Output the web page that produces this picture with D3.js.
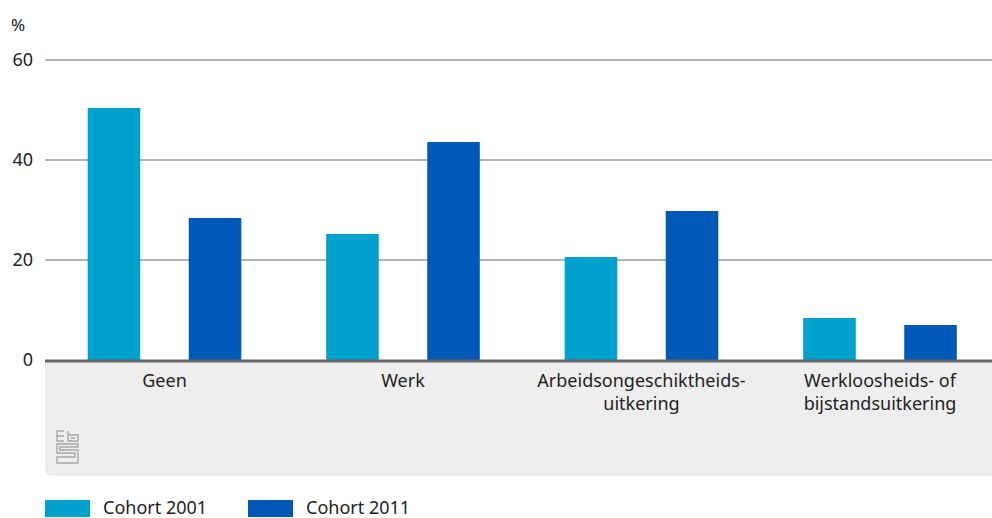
<!DOCTYPE html>
<html><head><meta charset="utf-8">
<script src="https://cdn.jsdelivr.net/npm/d3@7"></script>
<style>body{margin:0;background:#fff}svg{display:block;font-family:"Noto Sans",sans-serif}</style>
</head><body><svg id="c" width="992" height="518"></svg>
<script>
const categories = [["Geen"], ["Werk"], ["Arbeidsongeschiktheids-", "uitkering"], ["Werkloosheids- of", "bijstandsuitkering"]];
const seriesNames = ["Cohort 2001", "Cohort 2011"];
const cohort2001 = [50.4, 25.2, 20.6, 8.4];
const cohort2011 = [28.4, 43.6, 29.8, 7.0];
const yTicks = [0, 20, 40, 60];
const colors = ["#00a1cd", "#0058b8"];

const svg = d3.select("#c");
const pLeft = 45, pRight = 992, pTop = 60, pBottom = 360;
const y = d3.scaleLinear().domain([0, 60]).range([pBottom, pTop]);
const x0 = d3.scaleBand().domain(d3.range(categories.length)).range([45.25, 999.25]);
const x1 = d3.scaleBand().domain(seriesNames).range([0, x0.bandwidth()]).paddingInner(0.48).paddingOuter(0.42);

// gray label area
const gh = 116, r = 8;
svg.append("path").attr("fill", "#eeeeee")
  .attr("d", `M${pLeft},${pBottom} H${pRight} V${pBottom+gh} H${pLeft+r} Q${pLeft},${pBottom+gh} ${pLeft},${pBottom+gh-r} Z`);

// gridlines
svg.append("g").selectAll("line").data(yTicks.filter(d => d > 0)).join("line")
  .attr("x1", pLeft).attr("x2", pRight).attr("y1", d => y(d)).attr("y2", d => y(d))
  .attr("stroke", "#9a9a9a").attr("stroke-width", 1.5);

// y axis labels
const yAxis = d3.axisLeft(y).tickValues(yTicks).tickSize(0).tickPadding(0);
const ya = svg.append("g").attr("transform", `translate(33,0)`).call(yAxis);
ya.select(".domain").remove();
ya.selectAll("text").attr("font-size", 18).attr("fill", "#222").attr("font-family", "Noto Sans").attr("dy", "0.3em");
svg.append("text").attr("x", 11).attr("y", 31).text("%").attr("font-size", 17).attr("fill", "#222");

// bars
const data = categories.map((c, i) => [cohort2001[i], cohort2011[i]]);
const g = svg.append("g").selectAll("g").data(data).join("g")
  .attr("transform", (d, i) => `translate(${x0(i)},0)`);
g.selectAll("rect").data(d => d.map((v, j) => ({v, s: seriesNames[j], j}))).join("rect")
  .attr("x", d => x1(d.s)).attr("width", x1.bandwidth())
  .attr("y", d => y(d.v)).attr("height", d => y(0) - y(d.v))
  .attr("fill", d => colors[d.j]);

// baseline
svg.append("line").attr("x1", pLeft).attr("x2", pRight).attr("y1", pBottom+1).attr("y2", pBottom+1)
  .attr("stroke", "#666").attr("stroke-width", 3);

// x labels
const xl = svg.append("g").selectAll("text").data(categories).join("text")
  .attr("x", (d, i) => x0(i) + x0.bandwidth()/2).attr("y", 387)
  .attr("text-anchor", "middle").attr("font-size", 18).attr("fill", "#222");
xl.selectAll("tspan").data(d => d).join("tspan")
  .attr("x", function(){ return this.parentNode.getAttribute("x"); })
  .attr("dy", (d, k) => k === 0 ? 0 : 23).text(d => d);

// cbs logo
const logo = svg.append("g").attr("transform", "translate(56,430)").attr("fill", "none").attr("stroke", "#a8a8a8").attr("stroke-width", 1.4);
logo.append("path").attr("d", "M8,1 H1 V11 H8 M1,6 H8");
logo.append("path").attr("d", "M12,1 V11 H22 V5 H12 M15,8 H19");
logo.append("path").attr("d", "M22,14 H1 V23 H19 V27 H1 V33 H22 V20 H4 V17 H22 Z");

// legend
const lg = svg.append("g").selectAll("g").data(seriesNames).join("g")
  .attr("transform", (d, i) => `translate(${45 + i*203},500)`);
lg.append("rect").attr("width", 45).attr("height", 17).attr("fill", (d, i) => colors[i]);
lg.append("text").attr("x", 58).attr("y", 14).attr("font-size", 18).attr("fill", "#222").text(d => d);
</script></body></html>
